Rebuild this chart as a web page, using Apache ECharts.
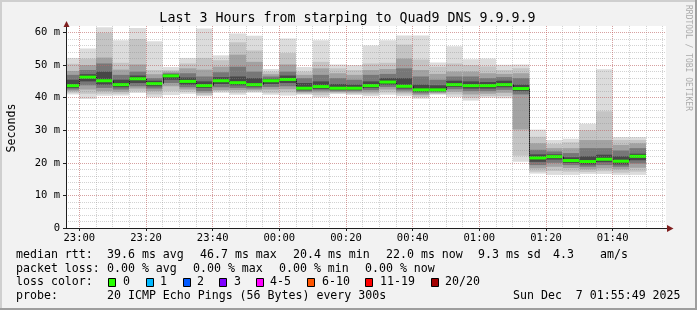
<!DOCTYPE html>
<html><head><meta charset="utf-8">
<script src="https://cdn.jsdelivr.net/npm/echarts@6/dist/echarts.min.js"></script>
<style>html,body{margin:0;padding:0;background:#f2f2f2}#c{width:697px;height:310px}</style>
</head><body><div id="c"></div>
<script>
// ---- data (ms) ----
const stepEnds = ['23:00','23:05','23:10','23:15','23:20','23:25','23:30','23:35','23:40','23:45','23:50','23:55',
  '00:00','00:05','00:10','00:15','00:20','00:25','00:30','00:35','00:40','00:45','00:50','00:55',
  '01:00','01:05','01:10','01:15','01:20','01:25','01:30','01:35','01:40','01:45','01:50'];
const median = [43.7,46.3,45.2,44.0,45.8,44.3,46.7,45.0,43.7,45.2,44.6,44.0,45.2,45.6,42.9,43.4,42.9,42.9,43.7,44.8,43.5,42.4,42.4,44.0,43.7,43.7,44.0,42.8,21.5,21.9,20.7,20.4,21.1,20.5,22.0];
const maxV = [52.2,55.1,61.6,57.6,61.4,57.3,49.4,52.2,61.2,53.0,59.7,59.0,48.8,58.2,49.4,57.6,50.2,50.0,56.0,57.6,59.1,59.1,50.8,55.8,51.8,52.0,50.1,50.2,30.2,27.0,27.4,32.0,48.7,27.9,27.9];
const hi2 = [50.4,52.0,59.9,50.7,58.0,48.5,48.5,50.5,52.2,51.5,57.0,54.5,48.0,53.7,48.0,51.0,49.0,48.5,50.5,50.7,56.3,51.7,49.5,50.5,50.0,49.6,48.5,49.0,28.0,25.8,26.3,30.0,35.8,27.0,27.0];
const hi3 = [48.2,50.0,52.3,48.6,50.2,47.2,48.0,49.0,48.6,49.5,53.2,51.0,47.2,50.2,47.0,49.0,47.5,47.0,48.5,48.8,52.0,48.5,47.3,48.0,48.0,47.5,47.3,47.5,26.0,24.5,24.5,27.0,27.0,25.5,26.0];
const hi4 = [47.0,48.5,50.5,47.0,48.0,46.0,47.5,47.5,46.5,47.8,49.5,48.0,46.5,48.0,46.0,47.0,46.0,45.5,47.0,47.3,49.0,46.5,45.5,46.5,46.5,46.0,46.3,46.0,24.0,23.5,23.0,24.5,24.5,23.8,24.5];
const hi5 = [45.5,47.2,48.0,45.5,46.8,45.2,47.2,46.2,45.0,46.3,46.5,46.0,45.8,46.8,44.5,45.0,44.2,44.0,45.0,46.0,46.0,44.0,43.8,45.2,45.0,44.8,45.2,44.0,22.6,22.6,21.7,22.0,22.5,22.0,22.8];
const lo5 = [43.0,45.0,44.0,43.2,44.5,43.5,45.5,44.0,43.0,44.2,43.8,43.4,44.2,44.5,42.3,42.7,42.4,42.4,43.0,44.0,42.8,41.8,42.0,43.3,42.8,42.8,43.2,42.0,20.3,21.0,20.0,19.5,20.2,19.5,20.8];
const lo4 = [42.5,43.8,43.0,42.5,43.5,42.8,44.5,43.2,42.0,43.2,43.0,42.8,43.3,43.5,41.9,42.2,42.0,42.0,42.3,43.3,42.2,41.3,41.7,42.6,42.0,42.0,42.4,41.0,19.3,20.0,19.3,18.8,19.3,18.8,19.8];
const lo3 = [42.0,42.5,42.0,41.8,42.8,42.0,43.5,42.5,41.4,42.3,42.3,42.3,42.5,42.6,41.6,41.6,41.7,41.6,41.6,42.5,41.6,40.8,41.4,41.8,41.0,41.2,41.5,30.2,18.3,18.8,18.4,18.0,18.3,18.0,18.5];
const lo2 = [41.5,41.2,41.2,41.2,42.0,41.0,42.0,41.8,40.8,42.0,41.5,41.9,41.5,41.6,41.2,40.8,41.4,41.2,41.0,41.6,41.0,40.2,41.1,41.0,40.0,40.5,40.5,22.2,17.3,17.5,17.3,17.2,17.4,17.0,17.3];
const minV = [41.0,39.6,40.6,40.7,41.4,40.1,40.8,41.2,40.4,41.5,40.9,41.5,40.9,40.7,40.9,40.1,41.1,40.8,40.4,40.9,40.4,39.7,40.9,40.2,39.1,40.0,39.8,20.3,16.7,16.3,16.3,16.6,16.6,16.3,16.3];

const titleText = 'Last 3 Hours from starping to Quad9 DNS 9.9.9.9';
const lossLabels = ['0','1','2','3','4-5','6-10','11-19','20/20'];
const lossColors = ['#26ff00','#00b8ff','#0059ff','#7e00ff','#ff00ff','#ff5500','#ff0000','#a10000'];

// axis range in minutes relative to 23:00
const xMin = -4, xMax = 176, yMax = 62;

function toMin(s){ const p = s.split(':').map(Number); let t = p[0]*60 + p[1]; if (p[0] < 12) t += 1440; return t - 1380; }
function fmtMin(v){ let t = (Math.round(v) + 1380) % 1440; const h = Math.floor(t/60), m = t % 60; return String(h).padStart(2,'0') + ':' + String(m).padStart(2,'0'); }

const ends = stepEnds.map(toMin);
const data = ends.map((e, i) => [i === 0 ? xMin : ends[i-1], e,
  minV[i], lo2[i], lo3[i], lo4[i], lo5[i], median[i], hi5[i], hi4[i], hi3[i], hi2[i], maxV[i],
  i === 0 ? median[i] : median[i-1]]);

const smokeColors = ['#dcdcdc','#c4c4c4','#a2a2a2','#777777','#474747'];
function renderItem(params, api){
  const t0 = api.value(0), t1 = api.value(1);
  const children = [];
  for (let k = 0; k < 5; k++){
    const lo = api.value(2 + k), hi = api.value(12 - k);
    const p0 = api.coord([t0, lo]), p1 = api.coord([t1, hi]);
    children.push({type:'rect', shape:{x:p0[0], y:p1[1], width:p1[0]-p0[0], height:p0[1]-p1[1]}, style:{fill:smokeColors[k]}});
  }
  const med = api.value(7), prev = api.value(13);
  const a = api.coord([t0, med]), b = api.coord([t1, med]), c = api.coord([t0, prev]);
  if (params.dataIndex > 0){
    const xx = Math.round(a[0]) + 0.5;
    children.push({type:'line', shape:{x1:xx, y1:c[1], x2:xx, y2:a[1]}, style:{stroke:'#202020', lineWidth:1}});
  }
  children.push({type:'rect', shape:{x:a[0], y:a[1]-1.5, width:b[0]-a[0], height:3}, style:{fill:'#26ff00'}});
  return {type:'group', children};
}

const FONT = '"DejaVu Sans Mono"';
const LF = '11.6px ' + FONT;
function txt(x, y, s, opt){ return Object.assign({type:'text', x, y, silent:true, style:{text:s, font:LF, fill:'#000', align:'left', verticalAlign:'middle'}}, opt || {}); }

const graphic = [
  // frame
  {type:'rect', shape:{x:0,y:0,width:697,height:2}, style:{fill:'#cfcfcf'}, silent:true},
  {type:'rect', shape:{x:0,y:0,width:2,height:310}, style:{fill:'#cfcfcf'}, silent:true},
  {type:'rect', shape:{x:0,y:308,width:697,height:2}, style:{fill:'#9e9e9e'}, silent:true},
  {type:'rect', shape:{x:695,y:0,width:2,height:310}, style:{fill:'#9e9e9e'}, silent:true},
  // title
  {type:'text', x:347.5, y:19, silent:true, style:{text:titleText, font:'13.3px '+FONT, fill:'#000', align:'center', verticalAlign:'middle'}},
  // watermark
  {type:'text', x:688.5, y:5, rotation:-Math.PI/2, silent:true, style:{text:'RRDTOOL / TOBI OETIKER', font:'8px '+FONT, fill:'#ababab', align:'left', verticalAlign:'middle'}},
  // y axis name
  {type:'text', x:11.5, y:128, rotation:Math.PI/2, silent:true, style:{text:'Seconds', font:'11.6px '+FONT, fill:'#000', align:'center', verticalAlign:'middle'}},
  // arrows
  {type:'polygon', shape:{points:[[63.5,27],[69.5,27],[66.5,21]]}, style:{fill:'#801f1f'}, silent:true, z:50},
  {type:'line', shape:{x1:666,y1:228.5,x2:669,y2:228.5}, style:{stroke:'#1f1f1f', lineWidth:1}, silent:true, z:50},
  {type:'polygon', shape:{points:[[667,225],[667,232],[673.5,228.5]]}, style:{fill:'#801f1f'}, silent:true, z:50},
  // legend lines
  txt(16, 255, 'median rtt:'), txt(107, 255, '39.6 ms avg'), txt(200, 255, '46.7 ms max'), txt(293, 255, '20.4 ms min'),
  txt(386, 255, '22.0 ms now'), txt(478, 255, '9.3 ms sd'), txt(553, 255, '4.3'), txt(600, 255, 'am/s'),
  txt(16, 268.5, 'packet loss:'), txt(107, 268.5, '0.00 % avg'), txt(193, 268.5, '0.00 % max'), txt(279, 268.5, '0.00 % min'), txt(365, 268.5, '0.00 % now'),
  txt(16, 282, 'loss color:'),
  txt(16, 296, 'probe:'), txt(107, 296, '20 ICMP Echo Pings (56 Bytes) every 300s'), txt(513, 296, 'Sun Dec  7 01:55:49 2025')
];
const boxX = [108,146,183,219,256,307,365,431];
const labX = [123,160,197,234,270,322,380,445];
lossLabels.forEach((l, i) => {
  graphic.push({type:'rect', shape:{x:boxX[i]+0.5, y:278.5, width:7, height:8}, style:{fill:lossColors[i], stroke:'#000', lineWidth:1}, silent:true});
  graphic.push(txt(labX[i], 282, l));
});

const minorGrid = {color:'rgba(143,143,143,0.4)', type:[1,1], width:1};
const majorGrid = {color:'rgba(222,79,79,0.38)', type:[1,1], width:1};
const axisFont = {fontFamily:'DejaVu Sans Mono', fontSize:10.5, color:'#000'};

const option = {
  animation:false,
  backgroundColor:'#f2f2f2',
  grid:{left:66, right:31, top:26, bottom:82, show:true, backgroundColor:'#ffffff', borderWidth:0, containLabel:false},
  xAxis:[
    {type:'value', min:xMin, max:xMax, splitNumber:9, z:6,
     axisLine:{show:true, onZero:false, lineStyle:{color:'#1f1f1f', width:1}},
     axisTick:{show:true, length:3, lineStyle:{color:'#1f1f1f'}},
     axisLabel:Object.assign({formatter:fmtMin, showMinLabel:false, showMaxLabel:false, margin:5}, axisFont),
     splitLine:{show:true, showMinLine:false, showMaxLine:false, lineStyle:majorGrid}},
    {type:'value', min:xMin, max:xMax, splitNumber:36, z:5, position:'bottom',
     axisLine:{show:false, onZero:false}, axisTick:{show:false}, axisLabel:{show:false},
     splitLine:{show:true, showMinLine:false, showMaxLine:false, lineStyle:minorGrid}}
  ],
  yAxis:[
    {type:'value', min:0, max:yMax, interval:10, z:6,
     axisLine:{show:true, onZero:false, lineStyle:{color:'#1f1f1f', width:1}},
     axisTick:{show:true, length:3, lineStyle:{color:'#1f1f1f'}},
     axisLabel:Object.assign({formatter:v => v === 0 ? '0' : v + ' m', showMaxLabel:false, margin:6}, axisFont),
     splitLine:{show:true, showMinLine:false, showMaxLine:false, lineStyle:majorGrid}},
    {type:'value', min:0, max:yMax, interval:2, z:5, position:'left',
     axisLine:{show:false, onZero:false}, axisTick:{show:false}, axisLabel:{show:false},
     splitLine:{show:true, showMinLine:false, showMaxLine:false, lineStyle:minorGrid}}
  ],
  graphic: graphic,
  series:[{
    type:'custom', xAxisIndex:0, yAxisIndex:0, renderItem, clip:true,
    encode:{x:[0,1], y:[2,12]}, data, z:2, silent:true
  }]
};
const chart = echarts.init(document.getElementById('c'), null, {renderer:'canvas', width:697, height:310});
chart.setOption(option);
</script></body></html>
